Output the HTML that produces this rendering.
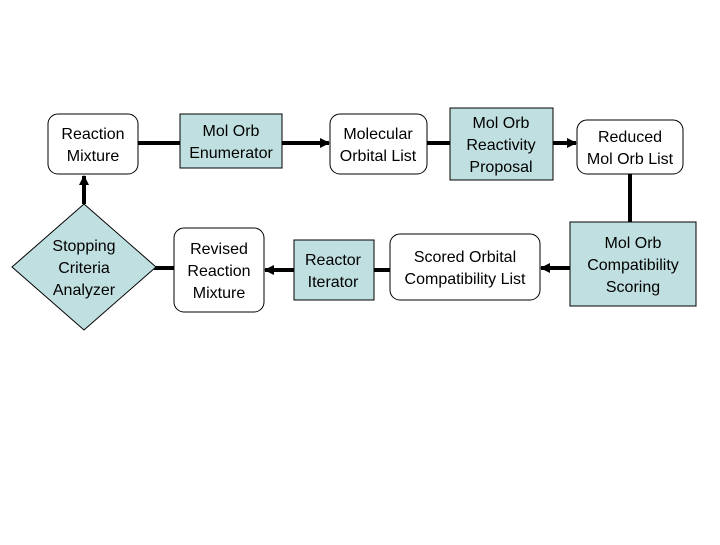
<!DOCTYPE html>
<html><head><meta charset="utf-8"><style>
body{margin:0;background:#fff;}
svg text{font-family:"Liberation Sans",Arial,sans-serif;font-size:16px;fill:#000;text-anchor:middle;}
</style></head><body>
<svg width="720" height="540" xmlns="http://www.w3.org/2000/svg">
<defs><marker id="a" markerWidth="10" markerHeight="10" refX="9" refY="5" orient="auto" markerUnits="userSpaceOnUse"><path d="M0,0 L10,5 L0,10 z" fill="#000"/></marker></defs>
<g stroke="#000" stroke-width="4" fill="none">
<line x1="84" y1="204" x2="84" y2="176" marker-end="url(#a)"/>
<line x1="138" y1="143" x2="180" y2="143"/>
<line x1="282" y1="143" x2="329" y2="143" marker-end="url(#a)"/>
<line x1="427" y1="143" x2="450" y2="143"/>
<line x1="553" y1="143" x2="576" y2="143" marker-end="url(#a)"/>
<line x1="630" y1="174" x2="630" y2="222"/>
<line x1="570" y1="268" x2="541" y2="268" marker-end="url(#a)"/>
<line x1="390" y1="270" x2="374" y2="270"/>
<line x1="294" y1="270" x2="265" y2="270" marker-end="url(#a)"/>
<line x1="174" y1="268" x2="154" y2="268"/>
</g>
<g stroke="#000" stroke-width="1">
<rect x="48" y="114" width="90" height="60" rx="10" fill="#fff"/>
<rect x="180" y="114" width="102" height="54" fill="#c0dfe0"/>
<rect x="330" y="114" width="97" height="60" rx="10" fill="#fff"/>
<rect x="450" y="108" width="103" height="72" fill="#c0dfe0"/>
<rect x="577" y="120" width="106" height="54" rx="10" fill="#fff"/>
<rect x="570" y="222" width="126" height="84" fill="#c0dfe0"/>
<rect x="390" y="234" width="150" height="66" rx="10" fill="#fff"/>
<rect x="294" y="240" width="80" height="60" fill="#c0dfe0"/>
<rect x="174" y="228" width="90" height="84" rx="10" fill="#fff"/>
<polygon points="84,204 156,267 84,330 12,267" fill="#c0dfe0"/>
</g>
<text x="93" y="139">Reaction</text><text x="93" y="161">Mixture</text>
<text x="231" y="136">Mol Orb</text><text x="231" y="158">Enumerator</text>
<text x="378" y="139">Molecular</text><text x="378" y="161">Orbital List</text>
<text x="501" y="128">Mol Orb</text><text x="501" y="150">Reactivity</text><text x="501" y="172">Proposal</text>
<text x="630" y="142">Reduced</text><text x="630" y="164">Mol Orb List</text>
<text x="633" y="248">Mol Orb</text><text x="633" y="270">Compatibility</text><text x="633" y="292">Scoring</text>
<text x="465" y="262">Scored Orbital</text><text x="465" y="284">Compatibility List</text>
<text x="333" y="265">Reactor</text><text x="333" y="287">Iterator</text>
<text x="219" y="254">Revised</text><text x="219" y="276">Reaction</text><text x="219" y="298">Mixture</text>
<text x="84" y="251">Stopping</text><text x="84" y="273">Criteria</text><text x="84" y="295">Analyzer</text>
</svg>
</body></html>
